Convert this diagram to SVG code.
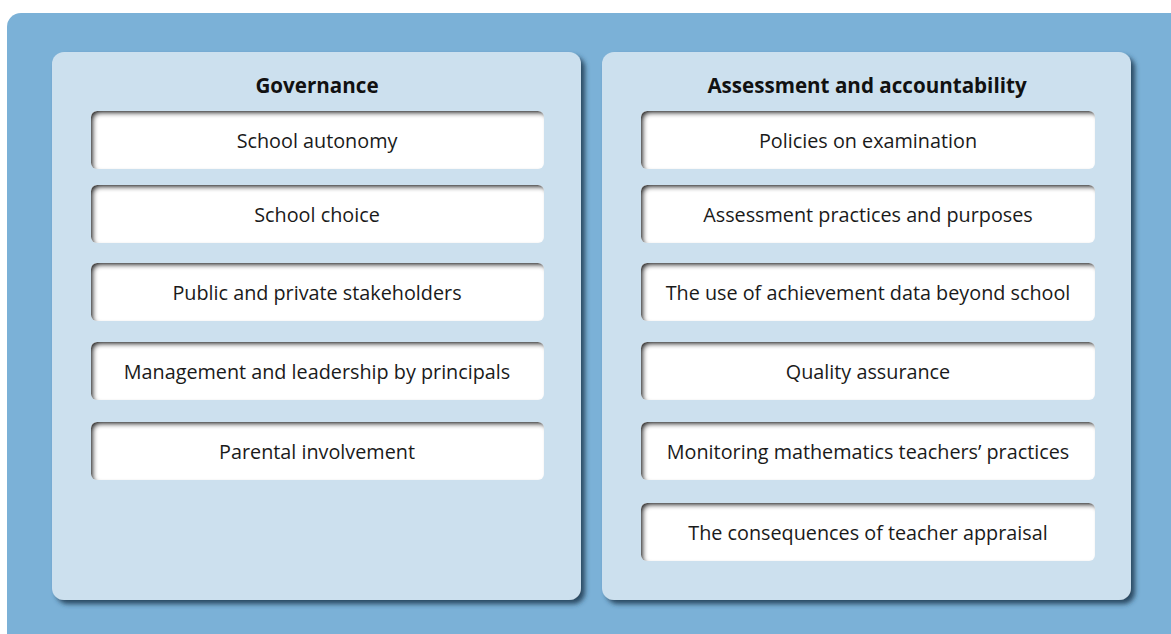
<svg xmlns="http://www.w3.org/2000/svg" width="1171" height="634" viewBox="0 0 1171 634">
<defs>
<style>
.panel{fill:#CCE0EE;filter:url(#drop)}
.box{fill:#FFFFFF;filter:url(#inset)}
.title{font-family:"Open Sans","Liberation Sans",sans-serif;font-weight:bold;font-size:20.6px;fill:#111;text-anchor:middle}
.lbl{font-family:"Open Sans","Liberation Sans",sans-serif;font-size:19.8px;fill:#1a1a1a;text-anchor:middle}
</style>
<filter id="drop" x="-5%" y="-5%" width="112%" height="112%">
<feGaussianBlur in="SourceAlpha" stdDeviation="2.5"/>
<feOffset dx="4" dy="4" result="b"/>
<feFlood flood-color="#26445C" flood-opacity="0.95"/>
<feComposite in2="b" operator="in" result="s"/>
<feMerge><feMergeNode in="s"/><feMergeNode in="SourceGraphic"/></feMerge>
</filter>
<filter id="inset" x="-5%" y="-20%" width="110%" height="140%">
<feFlood flood-color="#222222" result="f"/>
<feComposite in="f" in2="SourceAlpha" operator="out" result="inv"/>
<feGaussianBlur in="inv" stdDeviation="2.2"/>
<feOffset dx="3" dy="3" result="sh"/>
<feComposite in="sh" in2="SourceAlpha" operator="in" result="ins"/>
<feMerge><feMergeNode in="SourceGraphic"/><feMergeNode in="ins"/></feMerge>
</filter>
</defs>
<rect x="7" y="13" width="1178" height="640" rx="14" fill="#7BB1D7"/>
<g id="governance">
<rect class="panel" x="52" y="52" width="529" height="548" rx="12"/>
<text class="title" x="317" y="93">Governance</text>
</g>
<g id="assessment">
<rect class="panel" x="602" y="52" width="529" height="548" rx="12"/>
<text class="title" x="867" y="93">Assessment and accountability</text>
</g>
<g id="g1"><rect class="box" x="91" y="111" width="453" height="58" rx="6"/><text class="lbl" x="317" y="148">School autonomy</text></g>
<g id="g2"><rect class="box" x="91" y="185" width="453" height="58" rx="6"/><text class="lbl" x="317" y="222">School choice</text></g>
<g id="g3"><rect class="box" x="91" y="263" width="453" height="58" rx="6"/><text class="lbl" x="317" y="300">Public and private stakeholders</text></g>
<g id="g4"><rect class="box" x="91" y="342" width="453" height="58" rx="6"/><text class="lbl" x="317" y="379">Management and leadership by principals</text></g>
<g id="g5"><rect class="box" x="91" y="422" width="453" height="58" rx="6"/><text class="lbl" x="317" y="459">Parental involvement</text></g>
<g id="a1"><rect class="box" x="641" y="111" width="454" height="58" rx="6"/><text class="lbl" x="868" y="148">Policies on examination</text></g>
<g id="a2"><rect class="box" x="641" y="185" width="454" height="58" rx="6"/><text class="lbl" x="868" y="222">Assessment practices and purposes</text></g>
<g id="a3"><rect class="box" x="641" y="263" width="454" height="58" rx="6"/><text class="lbl" x="868" y="300">The use of achievement data beyond school</text></g>
<g id="a4"><rect class="box" x="641" y="342" width="454" height="58" rx="6"/><text class="lbl" x="868" y="379">Quality assurance</text></g>
<g id="a5"><rect class="box" x="641" y="422" width="454" height="58" rx="6"/><text class="lbl" x="868" y="459">Monitoring mathematics teachers’ practices</text></g>
<g id="a6"><rect class="box" x="641" y="503" width="454" height="58" rx="6"/><text class="lbl" x="868" y="540">The consequences of teacher appraisal</text></g>
<g id="connectors"/>
</svg>
